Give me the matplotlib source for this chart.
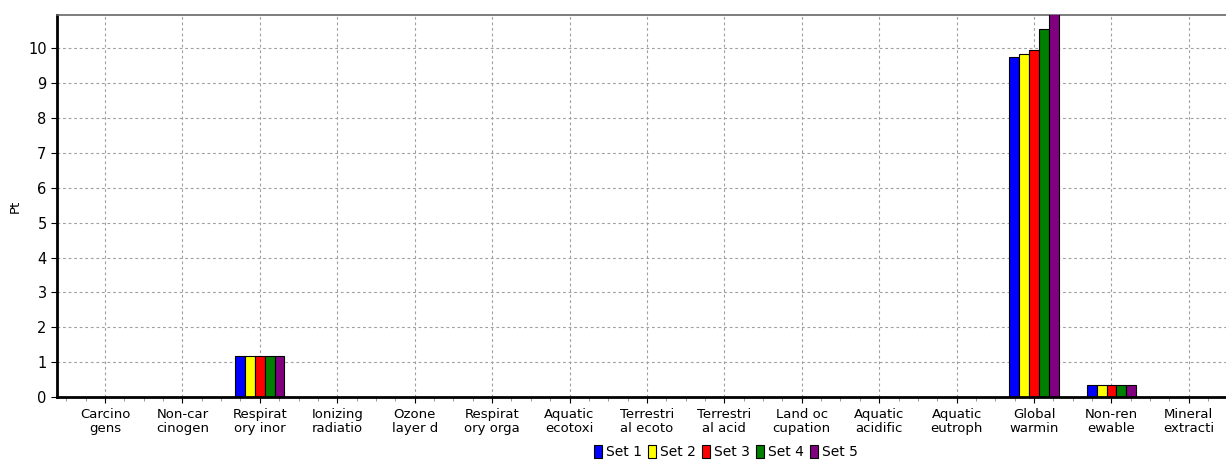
import numpy as np
import matplotlib
matplotlib.use("Agg")
import matplotlib.pyplot as plt
from matplotlib.patches import Patch
from matplotlib.ticker import MultipleLocator

categories = ["Carcino\ngens", "Non-car\ncinogen", "Respirat\nory inor", "Ionizing\nradiatio",
              "Ozone\nlayer d", "Respirat\nory orga", "Aquatic\necotoxi", "Terrestri\nal ecoto",
              "Terrestri\nal acid", "Land oc\ncupation", "Aquatic\nacidific", "Aquatic\neutroph",
              "Global\nwarmin", "Non-ren\newable", "Mineral\nextracti"]

set_names = ["Set 1", "Set 2", "Set 3", "Set 4", "Set 5"]
set1 = [0, 0, 1.18, 0, 0, 0, 0, 0, 0, 0, 0, 0, 9.75, 0.34, 0]
set2 = [0, 0, 1.18, 0, 0, 0, 0, 0, 0, 0, 0, 0, 9.83, 0.34, 0]
set3 = [0, 0, 1.18, 0, 0, 0, 0, 0, 0, 0, 0, 0, 9.97, 0.34, 0]
set4 = [0, 0, 1.18, 0, 0, 0, 0, 0, 0, 0, 0, 0, 10.55, 0.34, 0]
set5 = [0, 0, 1.18, 0, 0, 0, 0, 0, 0, 0, 0, 0, 11.0, 0.34, 0]
series = [set1, set2, set3, set4, set5]
colors = ["#0000ff", "#ffff00", "#ff0000", "#008000", "#800080"]

W, H = 1226, 461
fig = plt.figure(figsize=(W / 100, H / 100), dpi=100)
ax_w = (W - 57) / W
ax = fig.add_axes([57 / W, 1 - 397 / H, ax_w, (397 - 15) / H])

x = np.arange(len(categories))
bw = 0.127
for i, (vals, c) in enumerate(zip(series, colors)):
    v = np.array(vals, dtype=float)
    m = v > 0
    ax.bar(x[m] + (i - 2) * bw, v[m], width=bw, color=c, edgecolor="black",
           linewidth=0.8, zorder=3)

ax.set_xlim(-0.62, 14.48)
ax.set_ylim(0, 10.96)
ax.set_xticks(x)
ax.set_xticklabels(categories, fontsize=9.5, linespacing=1.05)
ax.xaxis.set_minor_locator(MultipleLocator(0.25))
ax.set_yticks(range(0, 11))
ax.tick_params(axis="y", labelsize=10.5, length=4, width=0.8)
ax.tick_params(axis="x", which="major", length=4, width=0.8, pad=4)
ax.tick_params(axis="x", which="minor", length=3, width=0.6, color="#888888")
ax.grid(True, which="major", linestyle=(0, (2.5, 2.5)), color="#a0a0a0", linewidth=0.8, zorder=0)

ax.spines["left"].set_linewidth(2)
ax.spines["bottom"].set_linewidth(2)
ax.spines["bottom"].set_zorder(4)
ax.spines["top"].set_color("#666666")
ax.spines["top"].set_linewidth(1.2)
ax.spines["right"].set_visible(False)

ax.set_ylabel("Pt", fontsize=9.5)
ax.yaxis.set_label_coords((22 - 57) / (W - 57), 0.5)

handles = [Patch(facecolor=c, edgecolor="black", linewidth=0.8) for c in colors]
fig.legend(handles, set_names, loc="center", bbox_to_anchor=(726 / W, 1 - 452 / H),
           ncol=5, frameon=False, fontsize=10, handlelength=0.6, handleheight=1.1,
           handletextpad=0.3, columnspacing=0.4, borderpad=0)

fig.savefig("out.png", dpi=100)
